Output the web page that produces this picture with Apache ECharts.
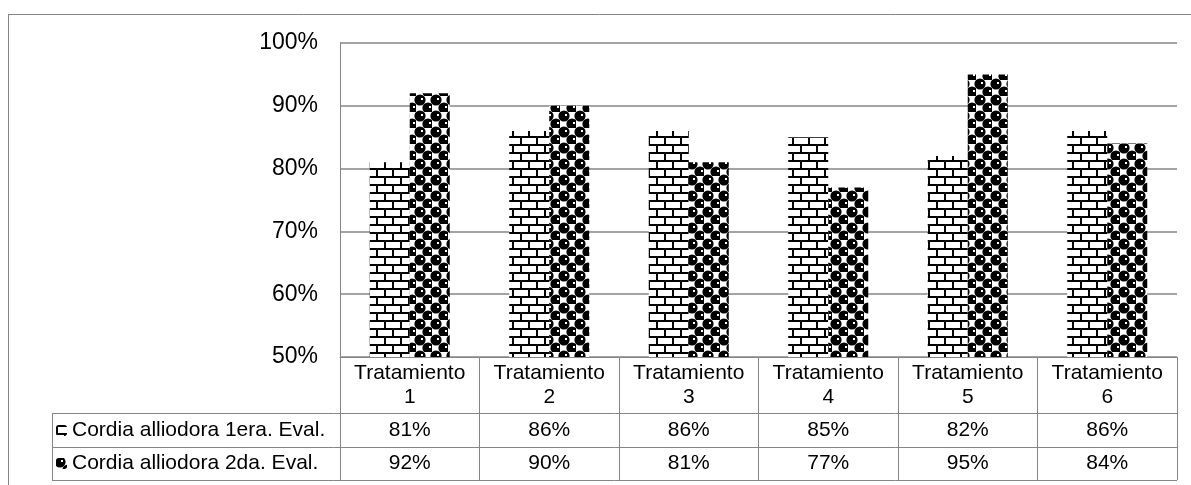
<!DOCTYPE html>
<html>
<head>
<meta charset="utf-8">
<script src="https://cdn.jsdelivr.net/npm/echarts@6/dist/echarts.min.js"></script>
<style>
  html, body { margin: 0; padding: 0; background: #fff; }
  #chart { width: 1191px; height: 485px; }
</style>
</head>
<body>
<div id="chart"></div>
<script>
// ---- data ----
const categories = ['Tratamiento\n1', 'Tratamiento\n2', 'Tratamiento\n3', 'Tratamiento\n4', 'Tratamiento\n5', 'Tratamiento\n6'];
const seriesNames = ['Cordia alliodora 1era. Eval.', 'Cordia alliodora 2da. Eval.'];
const firstEval = [81, 86, 86, 85, 82, 86];
const secondEval = [92, 90, 81, 77, 95, 84];
const yMin = 50, yMax = 100, yStep = 10;

// ---- fill patterns ----
function brickTile() {
  const c = document.createElement('canvas');
  c.width = 16; c.height = 16;
  const g = c.getContext('2d');
  g.fillStyle = '#fff'; g.fillRect(0, 0, 16, 16);
  g.fillStyle = '#000';
  g.fillRect(0, 0, 16, 2);   // mortar rows
  g.fillRect(0, 8, 16, 2);
  g.fillRect(0, 2, 2, 6);    // joints, staggered
  g.fillRect(8, 10, 2, 6);
  return c;
}
function sphereTile() {
  const c = document.createElement('canvas');
  c.width = 16; c.height = 16;
  const g = c.getContext('2d');
  g.fillStyle = '#fff'; g.fillRect(0, 0, 16, 16);
  g.fillStyle = '#000';
  // dark spheres on a checkerboard, wrapping around the tile edges
  [[0, 0], [8, 8], [16, 16], [0, 16], [16, 0]].forEach(([cx, cy]) => {
    g.beginPath();
    g.arc(cx + 4, cy + 4, 5.6, 0, Math.PI * 2);
    g.fill();
  });
  g.fillStyle = '#fff';
  g.fillRect(5, 2, 2, 2);
  g.fillRect(13, 10, 2, 2);
  return c;
}

const GRAY = '#868686';
const FONT = 'Liberation Sans, Arial, sans-serif';
const chart = echarts.init(document.getElementById('chart'));

const hLine = (x1, x2, y) => ({ type: 'line', shape: { x1, y1: y, x2, y2: y }, style: { stroke: GRAY, lineWidth: 1 }, silent: true });
const vLine = (x, y1, y2) => ({ type: 'line', shape: { x1: x, y1, x2: x, y2 }, style: { stroke: GRAY, lineWidth: 1 }, silent: true });

chart.setOption({
  animation: false,
  backgroundColor: '#fff',
  textStyle: { fontFamily: FONT, color: '#000' },
  grid: { left: 340, right: 14, top: 43, bottom: 128, containLabel: false },
  legend: {
    data: seriesNames,
    orient: 'vertical',
    left: 56, top: 420,
    padding: 0,
    itemWidth: 11, itemHeight: 11, itemGap: 12,
    selectedMode: false,
    textStyle: { fontFamily: FONT, fontSize: 21, lineHeight: 21, color: '#000' }
  },
  xAxis: [
    {
      type: 'category', data: categories, position: 'bottom',
      axisLine: { lineStyle: { color: GRAY, width: 1 } },
      axisTick: { show: true, length: 123, lineStyle: { color: GRAY, width: 1 } },
      axisLabel: { interval: 0, margin: 4, fontFamily: FONT, fontSize: 21, lineHeight: 24, color: '#000' }
    },
    {
      type: 'category', data: categories, position: 'bottom', offset: 56,
      axisLine: { show: false }, axisTick: { show: false },
      axisLabel: { interval: 0, margin: 7, fontFamily: FONT, fontSize: 21, lineHeight: 21, color: '#000',
        formatter: (v, i) => firstEval[i] + '%' }
    },
    {
      type: 'category', data: categories, position: 'bottom', offset: 90,
      axisLine: { show: false }, axisTick: { show: false },
      axisLabel: { interval: 0, margin: 6, fontFamily: FONT, fontSize: 21, lineHeight: 21, color: '#000',
        formatter: (v, i) => secondEval[i] + '%' }
    }
  ],
  yAxis: {
    type: 'value', min: yMin, max: yMax, interval: yStep,
    axisLine: { show: true, lineStyle: { color: GRAY, width: 1 } },
    axisTick: { show: false },
    splitLine: { lineStyle: { color: GRAY, width: 1.5 } },
    axisLabel: { formatter: '{value}%', margin: 22, fontFamily: FONT, fontSize: 23, color: '#000',
      padding: [4, 0, 0, 0] }
  },
  series: [
    {
      name: seriesNames[0], type: 'bar', data: firstEval,
      barWidth: 40, barGap: '0%',
      itemStyle: { color: { image: brickTile(), repeat: 'repeat' } }
    },
    {
      name: seriesNames[1], type: 'bar', data: secondEval,
      barWidth: 40, barGap: '0%',
      itemStyle: { color: { image: sphereTile(), repeat: 'repeat' } }
    }
  ],
  graphic: [
    // outer frame
    hLine(8, 1191, 14.5),
    vLine(8.5, 14, 485),
    // data table rows
    hLine(52, 1177, 413.5),
    hLine(52, 1177, 447.5),
    hLine(52, 1177, 480.5),
    vLine(52.5, 413, 481)
  ]
});
</script>
</body>
</html>
